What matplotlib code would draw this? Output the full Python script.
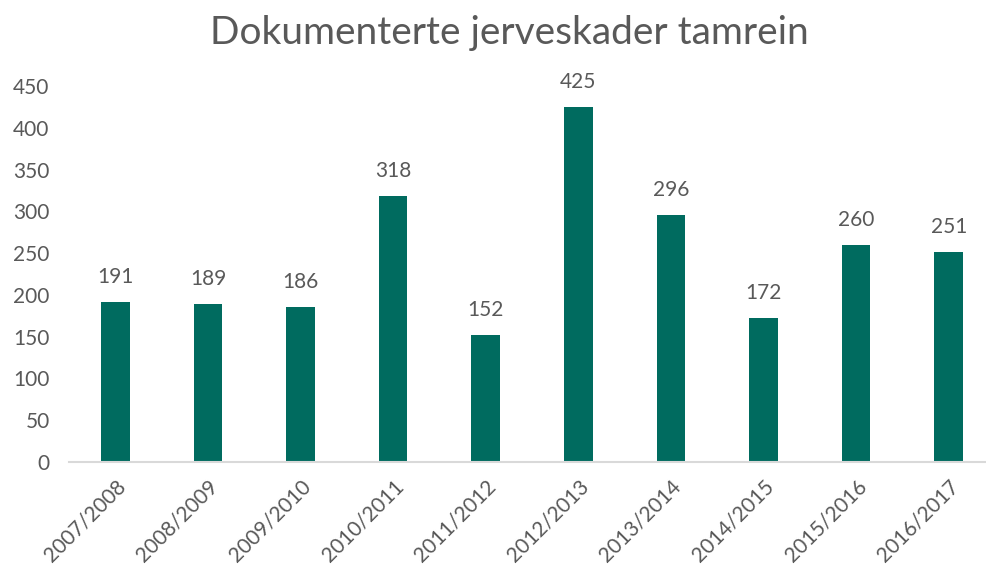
import matplotlib.pyplot as plt

seasons = ["2007/2008", "2008/2009", "2009/2010", "2010/2011", "2011/2012",
           "2012/2013", "2013/2014", "2014/2015", "2015/2016", "2016/2017"]
skader = [191, 189, 186, 318, 152, 425, 296, 172, 260, 251]
yticks = [0, 50, 100, 150, 200, 250, 300, 350, 400, 450]

bar_color = "#006B5F"
text_color = "#595959"

plt.rcParams["font.family"] = ["Lato", "DejaVu Sans"]

fig = plt.figure(figsize=(9.87, 5.74), dpi=100)
ax = fig.add_axes([69 / 987, 1 - 462 / 574, 926 / 987, (462 - 86) / 574])

x = range(len(seasons))
bars = ax.bar(x, skader, width=0.31, color=bar_color)
for b, v in zip(bars, skader):
    ax.text(b.get_x() + b.get_width() / 2, v + 18, str(v), ha="center", va="bottom",
            fontsize=15, color=text_color)

ax.set_xlim(-0.5, len(seasons) - 0.5)
ax.set_ylim(0, 450)
ax.set_yticks(yticks)
ax.set_yticklabels([str(t) for t in yticks], fontsize=15, color=text_color)
ax.set_xticks(list(x))
ax.set_xticklabels(seasons, rotation=45, ha="right", rotation_mode="anchor",
                   fontsize=15, color=text_color)
ax.tick_params(axis="both", length=0)
ax.tick_params(axis="y", pad=14)
ax.tick_params(axis="x", pad=10)

for side in ["top", "right", "left"]:
    ax.spines[side].set_visible(False)
ax.spines["bottom"].set_color("#D9D9D9")
ax.spines["bottom"].set_linewidth(1.5)

fig.text(509 / 987, 1 - 33 / 574, "Dokumenterte jerveskader tamrein", ha="center",
         va="center", fontsize=28, color=text_color)

fig.savefig("out.png", dpi=100)
